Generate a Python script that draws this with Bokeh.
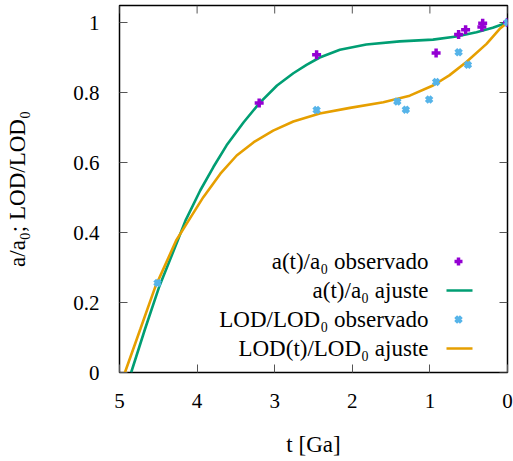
from bokeh.plotting import figure
from bokeh.models import Range1d, FixedTicker
from bokeh.core.properties import value
from bokeh.embed import file_html
from bokeh.resources import INLINE

# ---------------- data ----------------
a_obs_t = [3.20, 2.46, 0.92, 0.63, 0.54, 0.33, 0.32, 0.0]
a_obs_v = [0.770, 0.908, 0.913, 0.966, 0.979, 0.987, 0.998, 1.0]

lod_obs_t = [4.51, 2.46, 1.42, 1.31, 1.01, 0.92, 0.63, 0.51, 0.0]
lod_obs_v = [0.256, 0.750, 0.774, 0.751, 0.780, 0.830, 0.915, 0.879, 1.0]

a_fit_t = [4.85, 4.67, 4.49, 4.25, 4.15, 3.96, 3.79, 3.62, 3.40, 3.20, 2.97, 2.76,
           2.59, 2.42, 2.16, 1.82, 1.39, 0.96, 0.66, 0.40, 0.19, 0.0]
a_fit_v = [0.0, 0.125, 0.244, 0.377, 0.434, 0.520, 0.587, 0.649, 0.715, 0.769, 0.820, 0.855,
           0.879, 0.900, 0.922, 0.937, 0.946, 0.951, 0.960, 0.972, 0.985, 1.0]

lod_fit_t = [4.93, 4.73, 4.54, 4.27, 4.11, 3.92, 3.70, 3.49, 3.27, 3.02, 2.76, 2.42,
             2.03, 1.60, 1.26, 0.96, 0.75, 0.53, 0.27, 0.10, 0.0]
lod_fit_v = [0.0, 0.125, 0.244, 0.377, 0.434, 0.501, 0.568, 0.620, 0.658, 0.691, 0.717, 0.740,
             0.756, 0.772, 0.791, 0.820, 0.849, 0.887, 0.939, 0.982, 1.0]

x_ticks = [0, 1, 2, 3, 4, 5]
y_ticks = [0, 0.2, 0.4, 0.6, 0.8, 1]
y_tick_labels = ["0", "0.2", "0.4", "0.6", "0.8", "1"]

legend_labels = ["a(t)/a\u2080 observado", "a(t)/a\u2080 ajuste",
                 "LOD/LOD\u2080 observado", "LOD(t)/LOD\u2080 ajuste"]
x_label = "t [Ga]"
y_label = "a/a\u2080; LOD/LOD\u2080"

# ---------------- style ----------------
PURPLE = "#9400d3"
GREEN = "#009e73"
BLUE = "#56b4e9"
ORANGE = "#e69f00"
FONT = "Liberation Serif"
FS_TICK = "21px"
FS = "23px"
TICK = "#555555"

FRAME_W = 388
FRAME_H = 367

p = figure(width=513, height=461, x_range=Range1d(5, 0), y_range=Range1d(0, FRAME_H / 350),
           output_backend="svg", toolbar_location=None,
           min_border_left=119, min_border_right=6, min_border_top=5, min_border_bottom=89)
p.grid.visible = False
p.outline_line_color = "black"
p.outline_line_width = 1.5
p.background_fill_color = "white"
p.border_fill_color = "white"

def style_axis(ax):
    ax.axis_line_color = None
    ax.major_tick_in = 8
    ax.major_tick_out = 0
    ax.major_tick_line_color = TICK
    ax.major_tick_line_width = 1
    ax.minor_tick_line_color = None
    ax.major_label_text_font = FONT
    ax.major_label_text_font_size = FS_TICK
    ax.major_label_text_color = "black"
    ax.axis_label_text_font = FONT
    ax.axis_label_text_font_size = FS
    ax.axis_label_text_font_style = "normal"
    ax.axis_label_text_color = "black"

xa = p.xaxis[0]
xa.ticker = FixedTicker(ticks=x_ticks)
style_axis(xa)
xa.major_label_standoff = 21
xa.axis_label = x_label
xa.axis_label_standoff = 21

ya = p.yaxis[0]
ya.ticker = FixedTicker(ticks=y_ticks)
style_axis(ya)
ya.major_label_overrides = {t: l for t, l in zip(y_ticks, y_tick_labels)}
ya.major_label_standoff = 20
ya.axis_label = y_label
ya.axis_label_standoff = 40

# pixel ranges spanning the frame, for mirror ticks and the legend
p.extra_x_ranges = {"px": Range1d(0, FRAME_W)}
p.extra_y_ranges = {"px": Range1d(0, FRAME_H)}

# mirror ticks on top and right
p.segment(x0=x_ticks, x1=x_ticks, y0=[FRAME_H - 8] * len(x_ticks), y1=[FRAME_H] * len(x_ticks),
          y_range_name="px", line_color=TICK, line_width=1)
p.segment(x0=[FRAME_W - 8] * len(y_ticks), x1=[FRAME_W] * len(y_ticks), y0=y_ticks, y1=y_ticks,
          x_range_name="px", line_color=TICK, line_width=1)

# ---------------- marks ----------------
p.line(a_fit_t, a_fit_v, line_color=GREEN, line_width=2.6)
p.line(lod_fit_t, lod_fit_v, line_color=ORANGE, line_width=2.6)
p.scatter(a_obs_t, a_obs_v, marker="cross", size=9, line_color=PURPLE, line_width=3.5)
p.scatter(lod_obs_t, lod_obs_v, marker="x", size=8, line_color=BLUE, line_width=4)

# ---------------- legend (pixel coordinates inside the frame) ----------------
rows_y = [111, 82, 53, 24]
p.text(x=[309] * 4, y=rows_y, text=legend_labels, x_range_name="px", y_range_name="px",
       text_align="right", text_baseline="middle", text_font=value(FONT),
       text_font_size=FS, text_color="black")
p.scatter([339], [rows_y[0]], marker="cross", size=8, line_color=PURPLE, line_width=3.5,
          x_range_name="px", y_range_name="px")
p.scatter([339], [rows_y[2]], marker="x", size=8, line_color=BLUE, line_width=4,
          x_range_name="px", y_range_name="px")
p.segment(x0=[327], y0=[rows_y[1]], x1=[353], y1=[rows_y[1]], line_color=GREEN, line_width=2.6,
          x_range_name="px", y_range_name="px")
p.segment(x0=[327], y0=[rows_y[3]], x1=[353], y1=[rows_y[3]], line_color=ORANGE, line_width=2.6,
          x_range_name="px", y_range_name="px")

open("out.html", "w").write(file_html(p, INLINE))
